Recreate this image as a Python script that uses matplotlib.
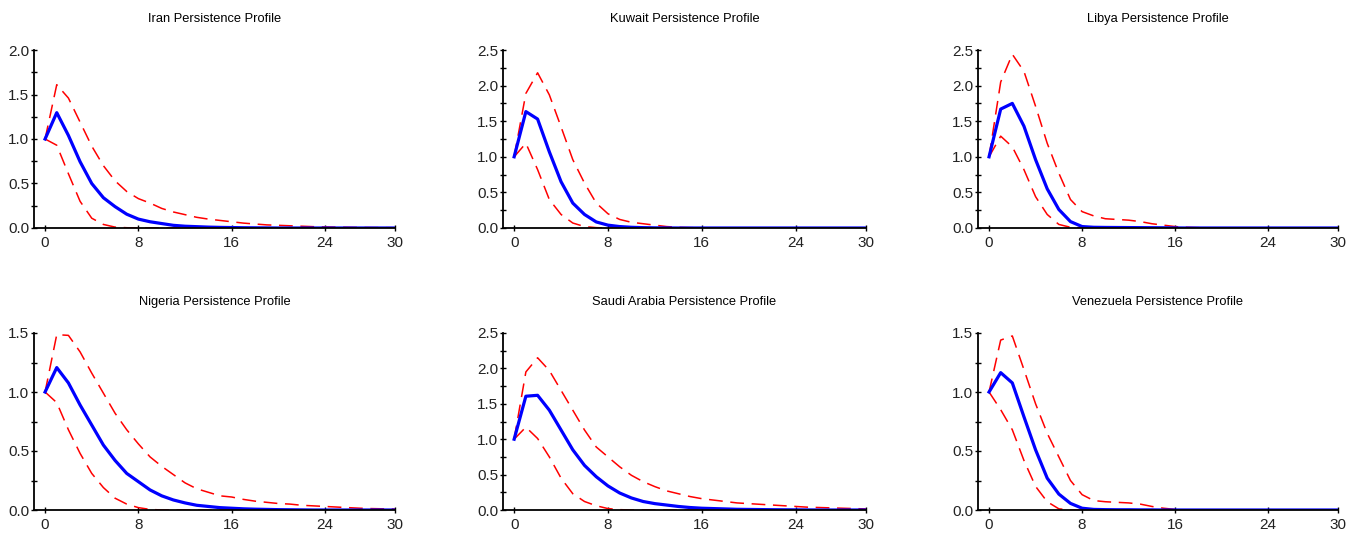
import matplotlib
matplotlib.use("Agg")
import matplotlib.pyplot as plt
from matplotlib.ticker import MultipleLocator

plt.rcParams['font.family'] = ['Liberation Sans', 'DejaVu Sans']

horizon = list(range(31))

countries = ["Iran", "Kuwait", "Libya", "Nigeria", "Saudi Arabia", "Venezuela"]
y_tops = [2.0, 2.5, 2.5, 1.5, 2.5, 1.5]

iran_mid = [1.0, 1.296, 1.04, 0.745, 0.50, 0.34, 0.24, 0.155, 0.10, 0.07, 0.05, 0.03, 0.02,
            0.015, 0.01, 0.007, 0.005, 0.003, 0.002, 0.001, 0, 0, 0, 0, 0, 0, 0, 0, 0, 0, 0]
iran_up = [1.0, 1.61, 1.46, 1.19, 0.92, 0.70, 0.53, 0.41, 0.33, 0.28, 0.22, 0.18, 0.15,
           0.12, 0.10, 0.085, 0.07, 0.055, 0.045, 0.035, 0.03, 0.025, 0.02, 0.015, 0.012,
           0.01, 0.008, 0.006, 0.005, 0.004, 0.003]
iran_lo = [1.0, 0.93, 0.61, 0.30, 0.11, 0.04, 0.01, 0.003, 0, 0, 0, 0, 0, 0, 0, 0, 0, 0,
           0, 0, 0, 0, 0, 0, 0, 0, 0, 0, 0, 0, 0]

kuwait_mid = [1.0, 1.635, 1.53, 1.07, 0.65, 0.35, 0.19, 0.085, 0.04, 0.02, 0.01, 0.005, 0.002,
              0.001, 0, 0, 0, 0, 0, 0, 0, 0, 0, 0, 0, 0, 0, 0, 0, 0, 0]
kuwait_up = [1.0, 1.89, 2.18, 1.87, 1.42, 0.96, 0.63, 0.35, 0.20, 0.12, 0.08, 0.06, 0.04,
             0.02, 0.01, 0.005, 0.002, 0, 0, 0, 0, 0, 0, 0, 0, 0, 0, 0, 0, 0, 0]
kuwait_lo = [1.0, 1.19, 0.82, 0.40, 0.19, 0.07, 0.02, 0.005, 0, 0, 0, 0, 0, 0, 0, 0, 0, 0,
             0, 0, 0, 0, 0, 0, 0, 0, 0, 0, 0, 0, 0]

libya_mid = [1.0, 1.67, 1.75, 1.43, 0.96, 0.55, 0.26, 0.09, 0.02, 0.01, 0.008, 0.007, 0.006,
             0.005, 0.004, 0.003, 0.001, 0, 0, 0, 0, 0, 0, 0, 0, 0, 0, 0, 0, 0, 0]
libya_up = [1.0, 2.05, 2.44, 2.20, 1.71, 1.19, 0.77, 0.40, 0.23, 0.17, 0.13, 0.12, 0.11,
            0.09, 0.06, 0.04, 0.02, 0.01, 0.005, 0, 0, 0, 0, 0, 0, 0, 0, 0, 0, 0, 0]
libya_lo = [1.0, 1.29, 1.14, 0.82, 0.44, 0.19, 0.05, 0.01, 0, 0, 0, 0, 0, 0, 0, 0, 0, 0,
            0, 0, 0, 0, 0, 0, 0, 0, 0, 0, 0, 0, 0]

nigeria_mid = [1.0, 1.207, 1.077, 0.89, 0.72, 0.55, 0.42, 0.31, 0.24, 0.17, 0.12, 0.085, 0.06,
               0.04, 0.03, 0.02, 0.015, 0.01, 0.007, 0.005, 0.003, 0.002, 0.001, 0, 0, 0, 0,
               0, 0, 0, 0]
nigeria_up = [1.0, 1.486, 1.48, 1.34, 1.16, 0.99, 0.82, 0.68, 0.56, 0.45, 0.37, 0.30, 0.23,
              0.18, 0.15, 0.12, 0.11, 0.09, 0.075, 0.065, 0.055, 0.05, 0.04, 0.035, 0.03,
              0.025, 0.02, 0.015, 0.012, 0.01, 0.008]
nigeria_lo = [1.0, 0.91, 0.68, 0.48, 0.31, 0.19, 0.10, 0.05, 0.02, 0.005, 0, 0, 0, 0, 0, 0,
              0, 0, 0, 0, 0, 0, 0, 0, 0, 0, 0, 0, 0, 0, 0]

saudi_mid = [1.0, 1.607, 1.62, 1.41, 1.13, 0.85, 0.63, 0.47, 0.34, 0.24, 0.17, 0.12, 0.09,
             0.07, 0.05, 0.035, 0.025, 0.02, 0.015, 0.01, 0.008, 0.006, 0.004, 0.003, 0.002,
             0.001, 0, 0, 0, 0, 0]
saudi_up = [1.0, 1.95, 2.15, 1.97, 1.69, 1.41, 1.13, 0.89, 0.75, 0.61, 0.49, 0.40, 0.33,
            0.27, 0.23, 0.19, 0.16, 0.14, 0.12, 0.10, 0.09, 0.08, 0.07, 0.06, 0.05, 0.04,
            0.035, 0.03, 0.025, 0.02, 0.015]
saudi_lo = [1.0, 1.17, 1.01, 0.75, 0.45, 0.23, 0.12, 0.06, 0.02, 0.005, 0, 0, 0, 0, 0, 0,
            0, 0, 0, 0, 0, 0, 0, 0, 0, 0, 0, 0, 0, 0, 0]

venez_mid = [1.0, 1.164, 1.077, 0.79, 0.51, 0.27, 0.135, 0.056, 0.015, 0.005, 0.003, 0.002,
             0.002, 0.001, 0.001, 0, 0, 0, 0, 0, 0, 0, 0, 0, 0, 0, 0, 0, 0, 0, 0]
venez_up = [1.0, 1.44, 1.475, 1.19, 0.90, 0.65, 0.45, 0.25, 0.13, 0.08, 0.07, 0.065, 0.06,
            0.05, 0.03, 0.015, 0.005, 0, 0, 0, 0, 0, 0, 0, 0, 0, 0, 0, 0, 0, 0]
venez_lo = [1.0, 0.85, 0.68, 0.42, 0.20, 0.07, 0.01, 0, 0, 0, 0, 0, 0, 0, 0, 0, 0, 0, 0, 0,
            0, 0, 0, 0, 0, 0, 0, 0, 0, 0, 0]

mids = [iran_mid, kuwait_mid, libya_mid, nigeria_mid, saudi_mid, venez_mid]
ups = [iran_up, kuwait_up, libya_up, nigeria_up, saudi_up, venez_up]
los = [iran_lo, kuwait_lo, libya_lo, nigeria_lo, saudi_lo, venez_lo]

x_ticks = [0, 8, 16, 24, 30]

fig = plt.figure(figsize=(13.47, 5.34), dpi=100)

W, H = 1347.0, 534.0
lefts = [34, 503, 978]
rights = [395, 866, 1338]
tops = [50, 333]
bottoms = [228, 510]

for i, name in enumerate(countries):
    r, c = divmod(i, 3)
    ax = fig.add_axes([lefts[c] / W, 1 - bottoms[r] / H,
                       (rights[c] - lefts[c]) / W, (bottoms[r] - tops[r]) / H])
    ax.plot(horizon, ups[i], color='red', lw=1.1, dashes=(9, 5), zorder=2)
    ax.plot(horizon, los[i], color='red', lw=1.1, dashes=(9, 5), zorder=2)
    ax.plot(horizon, mids[i], color='blue', lw=2.3, zorder=3)
    ax.set_xlim(-0.95, 30)
    ax.set_ylim(0, y_tops[i])
    ax.set_xticks(x_ticks)
    ax.yaxis.set_major_locator(MultipleLocator(0.5))
    ax.yaxis.set_minor_locator(MultipleLocator(0.25))
    ax.yaxis.set_major_formatter(matplotlib.ticker.FormatStrFormatter('%.1f'))
    for s in ['top', 'right']:
        ax.spines[s].set_visible(False)
    for s in ['left', 'bottom']:
        ax.spines[s].set_linewidth(1.3)
        ax.spines[s].set_zorder(4)
    ax.tick_params(axis='both', which='both', direction='inout', length=5, width=1,
                   labelsize=11, pad=1, labelcolor='#222222')
    ax.tick_params(axis='x', pad=3)
    ax.set_title(f"{name} Persistence Profile", fontsize=9.3, pad=20)

fig.savefig("out.png", dpi=100)
